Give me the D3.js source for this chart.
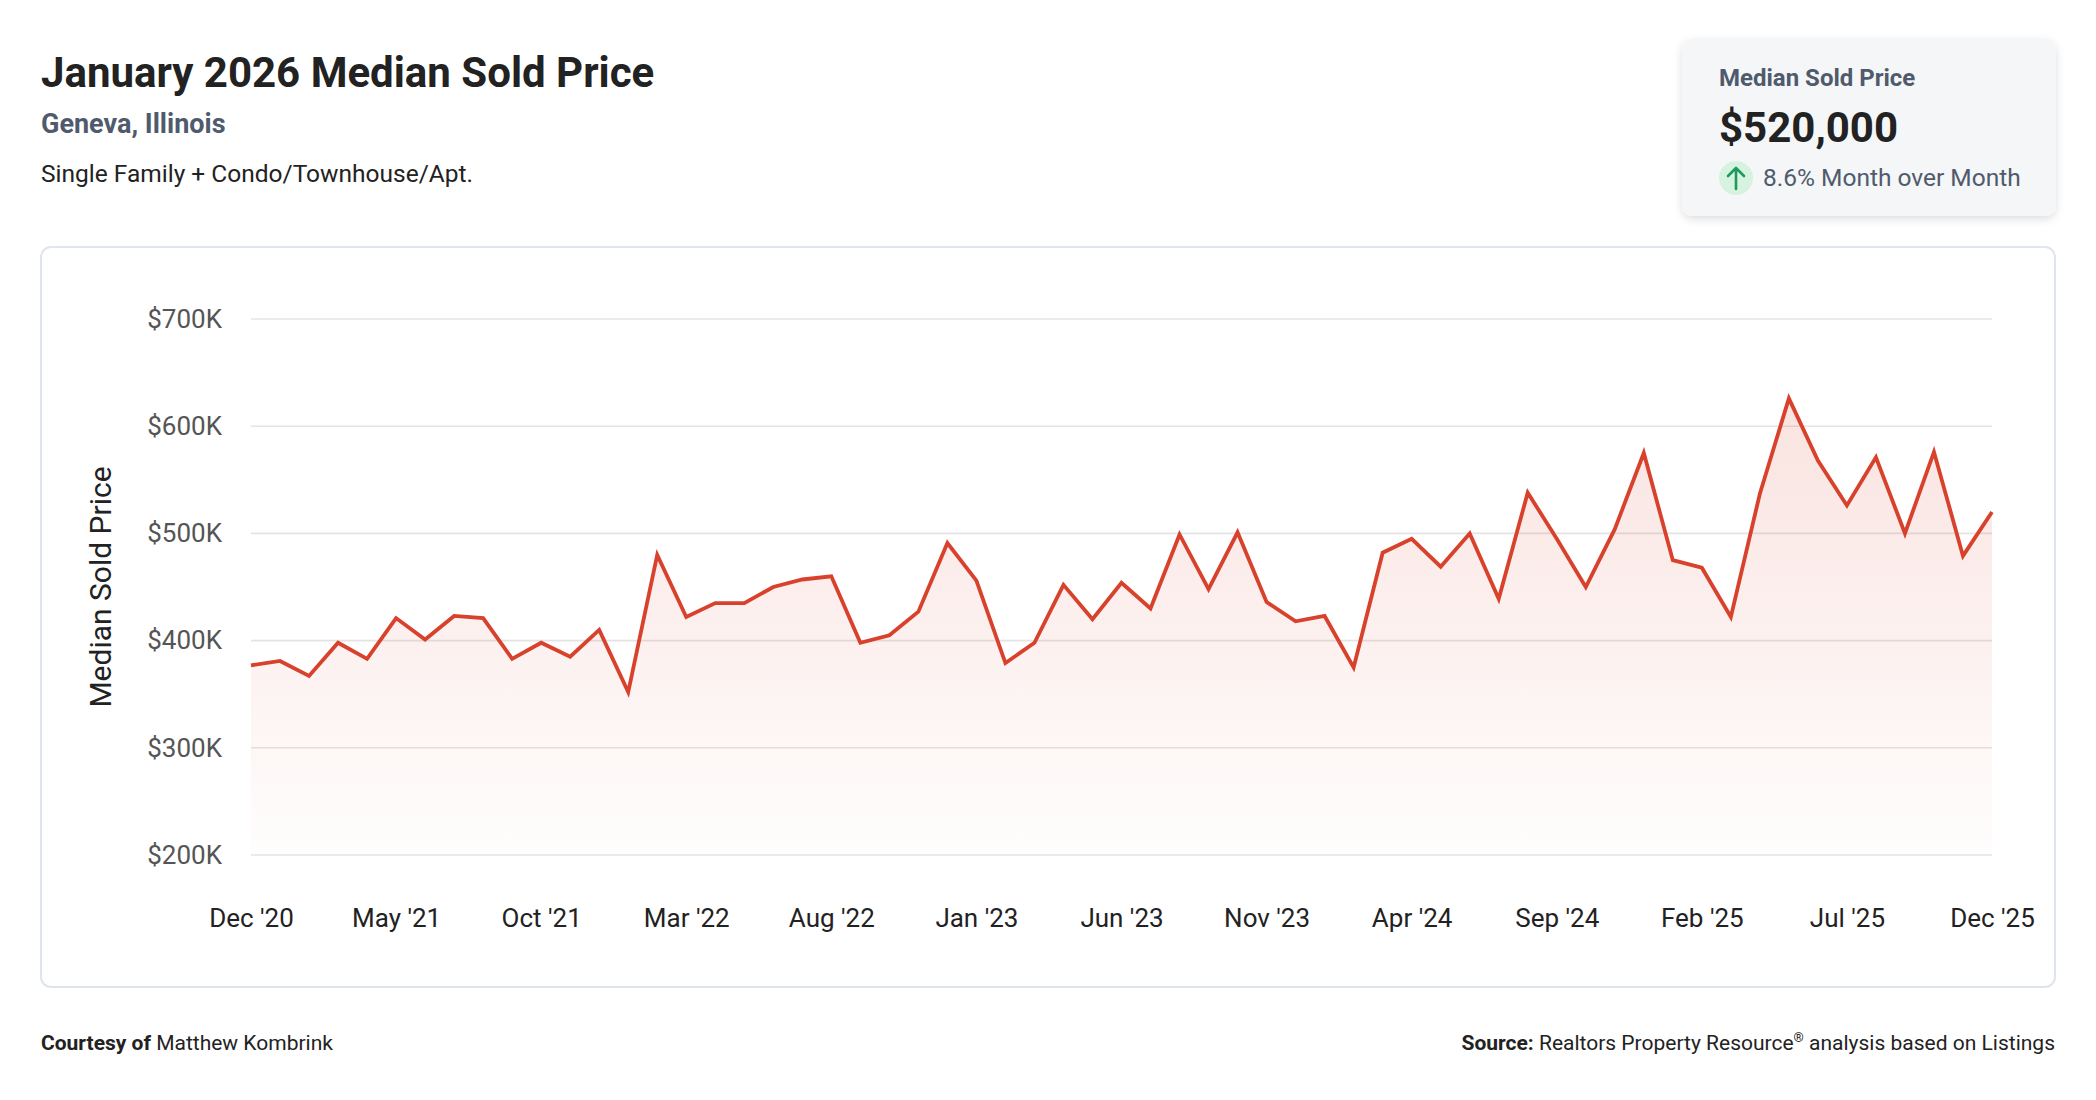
<!DOCTYPE html>
<html>
<head>
<meta charset="utf-8">
<script src="https://cdn.jsdelivr.net/npm/d3@7"></script>
<style>
  body { margin: 0; background: #fff; }
  svg { display: block; font-family: Roboto, "Open Sans", sans-serif; }
</style>
</head>
<body>
<div id="chart"></div>
<script>
var months = [
  "Dec '20", "Jan '21", "Feb '21", "Mar '21", "Apr '21", "May '21", "Jun '21", "Jul '21", "Aug '21", "Sep '21", "Oct '21", "Nov '21",
  "Dec '21", "Jan '22", "Feb '22", "Mar '22", "Apr '22", "May '22", "Jun '22", "Jul '22", "Aug '22", "Sep '22", "Oct '22", "Nov '22",
  "Dec '22", "Jan '23", "Feb '23", "Mar '23", "Apr '23", "May '23", "Jun '23", "Jul '23", "Aug '23", "Sep '23", "Oct '23", "Nov '23",
  "Dec '23", "Jan '24", "Feb '24", "Mar '24", "Apr '24", "May '24", "Jun '24", "Jul '24", "Aug '24", "Sep '24", "Oct '24", "Nov '24",
  "Dec '24", "Jan '25", "Feb '25", "Mar '25", "Apr '25", "May '25", "Jun '25", "Jul '25", "Aug '25", "Sep '25", "Oct '25", "Nov '25",
  "Dec '25"
];
// median sold price, in dollars
var prices = [
  377000, 381000, 367000, 398000, 383000, 421000, 401000, 423000, 421000, 383000, 398000, 385000,
  410000, 352000, 480000, 422000, 435000, 435000, 450000, 457000, 460000, 398000, 405000, 427000,
  491000, 456000, 379000, 398000, 452000, 420000, 454000, 430000, 499000, 448000, 501000, 436000,
  418000, 423000, 375000, 482000, 495000, 469000, 500000, 439000, 538000, 495000, 450000, 504000,
  575000, 475000, 468000, 422000, 537000, 626000, 568000, 526000, 571000, 500000, 576000, 479000,
  520000
];
var xTicks = ["Dec '20", "May '21", "Oct '21", "Mar '22", "Aug '22", "Jan '23", "Jun '23",
  "Nov '23", "Apr '24", "Sep '24", "Feb '25", "Jul '25", "Dec '25"];
var yTicks = [200000, 300000, 400000, 500000, 600000, 700000];

var data = months.map(function (m, i) { return { month: m, price: prices[i] }; });

var svg = d3.select("#chart").append("svg")
    .attr("width", 2096)
    .attr("height", 1100);

var defs = svg.append("defs");
var shadow = defs.append("filter").attr("id", "shadow")
    .attr("x", "-10%").attr("y", "-10%").attr("width", "120%").attr("height", "130%");
shadow.append("feDropShadow")
    .attr("dx", 0).attr("dy", 3).attr("stdDeviation", 4)
    .attr("flood-color", "#000").attr("flood-opacity", 0.13);

var grad = defs.append("linearGradient").attr("id", "areaFill")
    .attr("gradientUnits", "userSpaceOnUse")
    .attr("x1", 0).attr("x2", 0).attr("y1", 319).attr("y2", 855);
grad.append("stop").attr("offset", "0%").attr("stop-color", "#d8412b").attr("stop-opacity", 0.17);
grad.append("stop").attr("offset", "100%").attr("stop-color", "#d8412b").attr("stop-opacity", 0.01);

// header
svg.append("text").attr("x", 41).attr("y", 87)
    .attr("font-size", 42).attr("font-weight", 700).attr("fill", "#222")
    .text("January 2026 Median Sold Price");
svg.append("text").attr("x", 41).attr("y", 133)
    .attr("font-size", 27).attr("font-weight", 700).attr("fill", "#4f5b6c")
    .text("Geneva, Illinois");
svg.append("text").attr("x", 41).attr("y", 182)
    .attr("font-size", 24.5).attr("fill", "#222")
    .text("Single Family + Condo/Townhouse/Apt.");

// summary card
var card = svg.append("g");
card.append("rect")
    .attr("x", 1682).attr("y", 39).attr("width", 374).attr("height", 177).attr("rx", 10)
    .attr("fill", "#f5f6f8").attr("filter", "url(#shadow)");
card.append("text").attr("x", 1719).attr("y", 86)
    .attr("font-size", 24).attr("font-weight", 700).attr("fill", "#4f5b6c")
    .text("Median Sold Price");
card.append("text").attr("x", 1719).attr("y", 142)
    .attr("font-size", 42).attr("font-weight", 700).attr("fill", "#222")
    .text("$" + d3.format(",")(prices[prices.length - 1]));
card.append("circle").attr("cx", 1736).attr("cy", 178).attr("r", 17).attr("fill", "#d6f3e0");
card.append("path")
    .attr("d", "M1736,189 L1736,168 M1728,176 L1736,168 L1744,176")
    .attr("fill", "none").attr("stroke", "#1f9a5c").attr("stroke-width", 2.6)
    .attr("stroke-linecap", "round").attr("stroke-linejoin", "round");
var mom = (prices[prices.length - 1] / prices[prices.length - 2] - 1) * 100;
card.append("text").attr("x", 1763).attr("y", 186)
    .attr("font-size", 24.5).attr("fill", "#4f5b6c")
    .text(mom.toFixed(1) + "% Month over Month");

// chart frame
svg.append("rect")
    .attr("x", 41).attr("y", 247).attr("width", 2014).attr("height", 740).attr("rx", 10)
    .attr("fill", "#fff").attr("stroke", "#dfe5ec").attr("stroke-width", 2);

var x = d3.scalePoint().domain(months).range([251, 1992]);
var y = d3.scaleLinear().domain([200000, 700000]).range([855, 319]);

// gridlines
svg.append("g").selectAll("line")
    .data(yTicks).enter().append("line")
    .attr("x1", 251).attr("x2", 1992)
    .attr("y1", d => y(d)).attr("y2", d => y(d))
    .attr("stroke", "#e4e4e4").attr("stroke-width", 1.6);

var yAxis = d3.axisLeft(y).tickValues(yTicks).tickSize(0).tickPadding(29)
    .tickFormat(d => "$" + (d / 1000) + "K");
svg.append("g")
    .attr("transform", "translate(" + 251 + "," + 0 + ")")
    .call(yAxis)
    .call(g => g.select(".domain").remove())
    .selectAll("text")
    .attr("font-family", "Roboto, sans-serif")
    .attr("font-size", 26).attr("fill", "#555");

var xAxis = d3.axisBottom(x).tickValues(xTicks).tickSize(0).tickPadding(54);
svg.append("g")
    .attr("transform", "translate(" + 0 + "," + 855 + ")")
    .call(xAxis)
    .call(g => g.select(".domain").remove())
    .selectAll("text")
    .attr("font-family", "Roboto, sans-serif")
    .attr("font-size", 26).attr("fill", "#222");

svg.append("text")
    .attr("transform", "translate(" + 111 + "," + 587 + ") rotate(-90)")
    .attr("text-anchor", "middle")
    .attr("font-size", 30).attr("fill", "#222")
    .text("Median Sold Price");

// area + line
var area = d3.area()
    .x(d => x(d.month))
    .y0(y(200000))
    .y1(d => y(d.price));
var line = d3.line()
    .x(d => x(d.month))
    .y(d => y(d.price));

svg.append("path").datum(data)
    .attr("d", area)
    .attr("fill", "url(#areaFill)");
svg.append("path").datum(data)
    .attr("d", line)
    .attr("fill", "none").attr("stroke", "#d8412b").attr("stroke-width", 3.8)
    .attr("stroke-linejoin", "miter");

// footer
var courtesy = svg.append("text").attr("x", 41).attr("y", 1050)
    .attr("font-size", 21).attr("fill", "#222");
courtesy.append("tspan").attr("font-weight", 700).text("Courtesy of");
courtesy.append("tspan").text(" Matthew Kombrink");

var source = svg.append("text").attr("x", 2055).attr("y", 1050)
    .attr("text-anchor", "end").attr("font-size", 21).attr("fill", "#222");
source.append("tspan").attr("font-weight", 700).text("Source:");
source.append("tspan").text(" Realtors Property Resource");
source.append("tspan").attr("font-size", 13).attr("dy", -8).text("®");
source.append("tspan").attr("dy", 8).text(" analysis based on Listings");
</script>
</body>
</html>
